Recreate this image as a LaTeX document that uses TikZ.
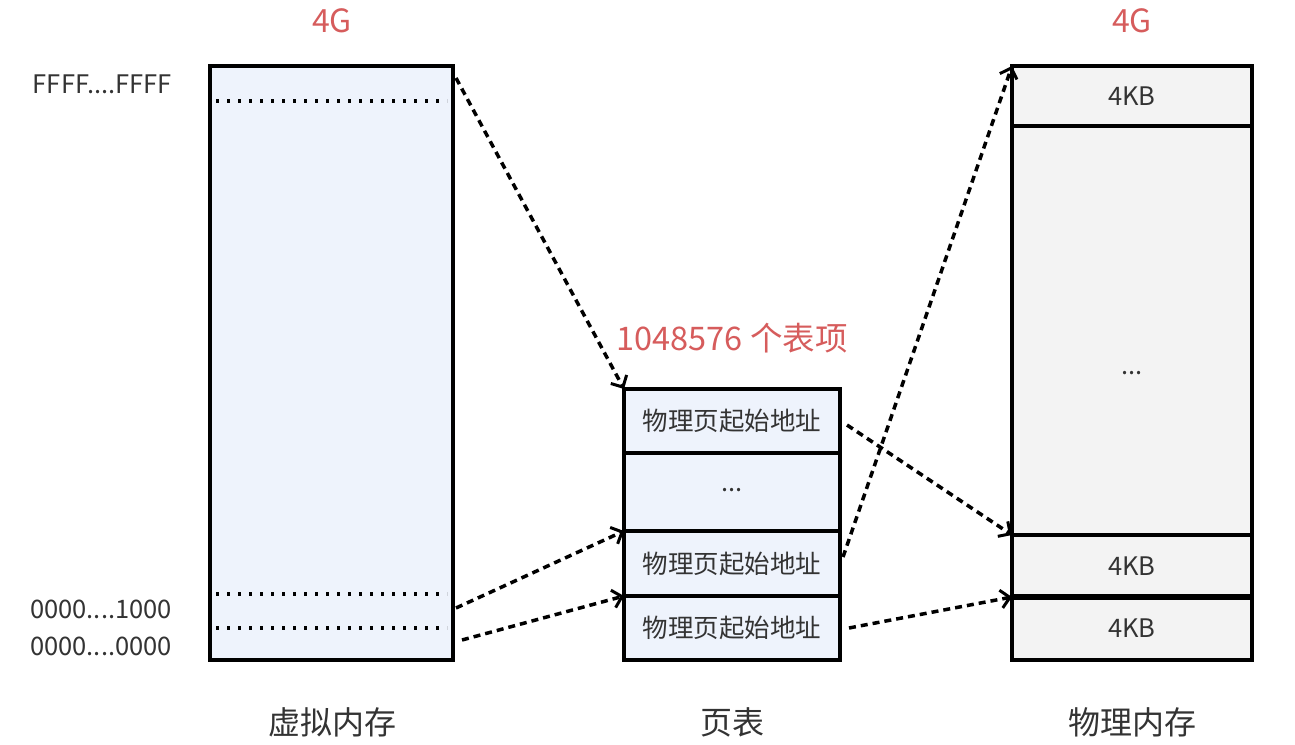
\documentclass[tikz,border=0pt]{standalone}
\usepackage{fontspec}
\setmainfont{Noto Sans CJK SC}
\usetikzlibrary{arrows.meta,calc}
\definecolor{vfill}{HTML}{EEF3FC}
\definecolor{pfill}{HTML}{F3F3F3}
\definecolor{redtxt}{HTML}{D65C5C}
\definecolor{txt}{HTML}{333333}
\newcommand{\lowtxt}[1]{\raisebox{-3pt}{#1}}
\begin{document}
\begin{tikzpicture}[x=1pt,y=-1pt,
  box/.style={draw=black,line width=3.5pt,inner sep=0pt,outer sep=0pt,text=txt,font=\fontsize{25.5}{28}\selectfont},
  vbox/.style={box,fill=vfill},
  pbox/.style={box,fill=pfill},
  lbl/.style={text=txt,inner sep=0pt,font=\fontsize{25.5}{28}\selectfont},
  title/.style={text=txt,inner sep=0pt,font=\fontsize{32}{34}\selectfont},
  red/.style={text=redtxt,inner sep=0pt},
  conn/.style={line width=3.5pt,dash pattern=on 7pt off 5pt,-{Straight Barb[length=9pt,width=18pt,line width=3pt]}},
  dotline/.style={line width=3.3pt,dash pattern=on 3pt off 8pt}
]
\useasboundingbox (0,0) rectangle (1295,744);
% virtual memory
\node[vbox,minimum width=243pt,minimum height=594pt] (vm) at (331.5,363) {};
\draw[dotline] (216,101) -- (447,101);
\draw[dotline] (216,594) -- (447,594);
\draw[dotline] (216,628) -- (447,628);
\node[lbl,anchor=east] (vtop) at (172,84) {FFFF....FFFF};
\node[lbl,anchor=east] (v1000) at (172,609) {0000....1000};
\node[lbl,anchor=east] (v0000) at (172,646) {0000....0000};
\node[red,font=\fontsize{32}{34}\selectfont] (vg) at (332,21) {4G};
\node[title] (vt) at (332,722) {虚拟内存};
% page table
\node[vbox,minimum width=216pt,minimum height=64pt] (pt1) at (732,421) {\lowtxt{物理页起始地址}};
\node[vbox,minimum width=216pt,minimum height=78pt] (pt2) at (732,492) {\raisebox{4pt}{...}};
\node[vbox,minimum width=216pt,minimum height=65pt] (pt3) at (732,563.5) {\lowtxt{物理页起始地址}};
\node[vbox,minimum width=216pt,minimum height=64pt] (pt4) at (732,628) {\lowtxt{物理页起始地址}};
\node[red,font=\fontsize{32.5}{35}\selectfont] (ptn) at (732,338) {1048576 个表项};
\node[title] (ptt) at (732,722) {页表};
% physical memory
\node[pbox,minimum width=240pt,minimum height=60pt] (pm1) at (1132,96) {\lowtxt{4KB}};
\node[pbox,minimum width=240pt,minimum height=409pt] (pm2) at (1132,330.5) {};
\node[lbl] (pmdots) at (1132,373) {...};
\node[pbox,minimum width=240pt,minimum height=62pt] (pm3) at (1132,566) {\lowtxt{4KB}};
\node[pbox,minimum width=240pt,minimum height=63pt] (pm4) at (1132,628.5) {\lowtxt{4KB}};
\draw[line width=5.5pt] (pm4.north west) -- (pm4.north east);
\node[red,font=\fontsize{32}{34}\selectfont] (pg) at (1132,21) {4G};
\node[title] (pmt) at (1132,722) {物理内存};
% connectors
\coordinate (s1) at (456,78);
\coordinate (s2) at (456,608);
\coordinate (s3) at (462,640);
\coordinate (s4) at (847,425);
\coordinate (s5) at (843,557);
\coordinate (s6) at (849,628);
\draw[conn] (s1) -- (pt1.north west);
\draw[conn] (s2) -- (pt3.north west);
\draw[conn] (s3) -- (pt4.north west);
\draw[conn] (s4) -- (pm3.north west);
\draw[conn] (s5) -- (pm1.north west);
\draw[conn] (s6) -- (pm4.north west);
\end{tikzpicture}
\end{document}
